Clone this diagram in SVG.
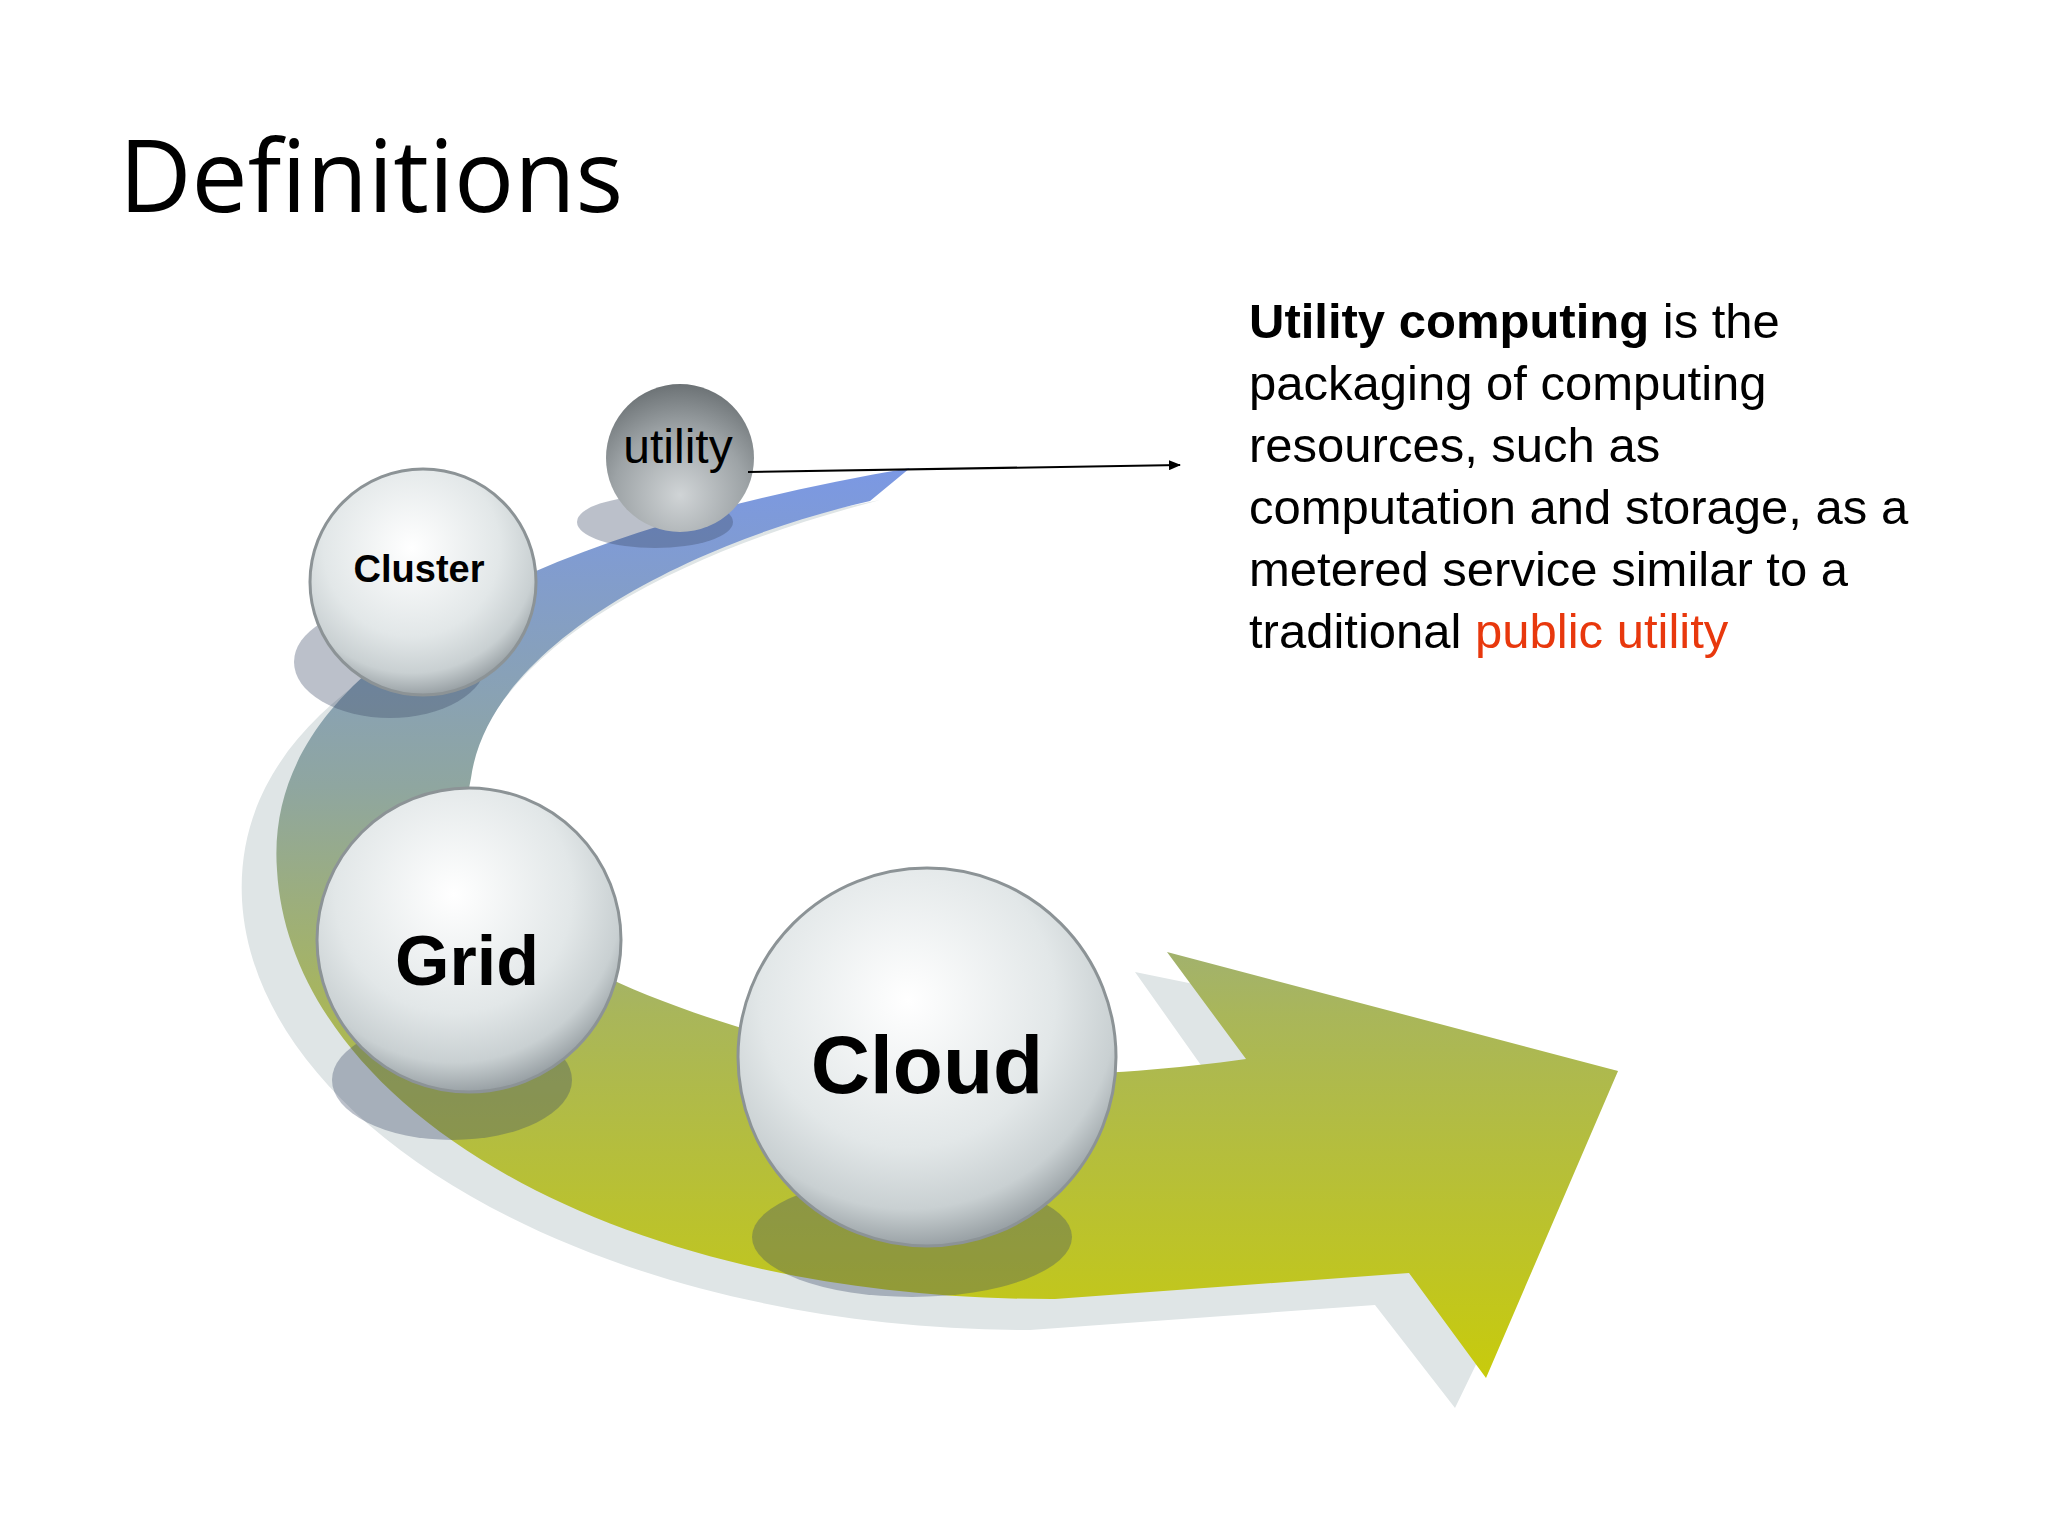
<svg xmlns="http://www.w3.org/2000/svg" width="2048" height="1536" viewBox="0 0 2048 1536">
<defs>
<linearGradient id="band" x1="0" y1="0" x2="0" y2="1">
<stop offset="0" stop-color="#7b98e4"/><stop offset="0.35" stop-color="#8fa6a0"/><stop offset="0.6" stop-color="#a9b65a"/><stop offset="1" stop-color="#c8cb0c"/>
</linearGradient>
<radialGradient id="sph" cx="0.45" cy="0.35" r="0.65">
<stop offset="0" stop-color="#ffffff"/><stop offset="0.6" stop-color="#e2e7e8"/><stop offset="0.85" stop-color="#c9d0d2"/><stop offset="1" stop-color="#9aa2a6"/>
</radialGradient>
<radialGradient id="sphd" cx="0.5" cy="0.75" r="0.75">
<stop offset="0" stop-color="#d0d4d6"/><stop offset="0.6" stop-color="#9da3a6"/><stop offset="1" stop-color="#6c7275"/>
</radialGradient>
<marker id="ah" markerWidth="12" markerHeight="10" refX="11" refY="5" orient="auto" markerUnits="userSpaceOnUse"><path d="M0,0 L12,5 L0,10 z" fill="#000"/></marker>
<style>
.t{font-family:"Liberation Sans",Arial,sans-serif;fill:#000}
.sh{fill:#3c4a66;opacity:0.35}
.sp{fill:url(#sph);stroke:#8c9396;stroke-width:3}
</style>
</defs>
<rect width="2048" height="1536" fill="#fff"/>
<text x="119" y="212" font-family="Open Sans,Noto Sans,sans-serif" font-size="100" fill="#000">Definitions</text>
<g id="band-arrow">
<path d="M880,500 C570,560 230,660 242,900 C255,1130 600,1330 1030,1330 L1375,1305 L1455,1408 L1618,1071 L1135,972 L1215,1085 C1070,1105 880,1105 780,1065 C600,990 440,920 460,800 C480,660 650,560 880,500 Z" fill="#dfe5e6"/>
<path d="M910,468 C600,520 260,640 277,870 C290,1100 600,1300 1055,1299 L1409,1273 L1486,1378 L1618,1071 L1167,952 L1246,1059 C1100,1080 900,1085 800,1045 C600,990 440,920 471,778 C490,640 700,540 870,501 Z" fill="url(#band)"/>
</g>
<g id="utility">
<ellipse cx="655" cy="522" rx="78" ry="26" class="sh"/>
<circle cx="680" cy="458" r="74" fill="url(#sphd)"/>
<text x="678" y="450" class="t" font-size="48" text-anchor="middle" dominant-baseline="middle">utility</text>
</g>
<g id="cluster">
<ellipse cx="390" cy="662" rx="96" ry="56" class="sh"/>
<circle cx="423" cy="582" r="113" class="sp"/>
<text x="419" y="572" class="t" font-size="38" font-weight="bold" text-anchor="middle" dominant-baseline="middle">Cluster</text>
</g>
<g id="grid">
<ellipse cx="452" cy="1080" rx="120" ry="60" class="sh"/>
<circle cx="469" cy="940" r="152" class="sp"/>
<text x="467" y="985" class="t" font-size="70" font-weight="bold" text-anchor="middle">Grid</text>
</g>
<g id="cloud">
<ellipse cx="912" cy="1237" rx="160" ry="60" class="sh"/>
<circle cx="927" cy="1057" r="189" class="sp"/>
<text x="927" y="1093" class="t" font-size="82" font-weight="bold" text-anchor="middle">Cloud</text>
</g>
<g id="connectors">
<line x1="748" y1="472" x2="1180" y2="465" stroke="#000" stroke-width="2" marker-end="url(#ah)"/>
</g>
<g id="definition" class="t" font-size="49">
<text x="1249" y="338"><tspan font-weight="bold">Utility computing</tspan> is the</text>
<text x="1249" y="400">packaging of computing</text>
<text x="1249" y="462">resources, such as</text>
<text x="1249" y="524">computation and storage, as a</text>
<text x="1249" y="586">metered service similar to a</text>
<text x="1249" y="648">traditional <tspan fill="#e8380d">public utility</tspan></text>
</g>
</svg>
